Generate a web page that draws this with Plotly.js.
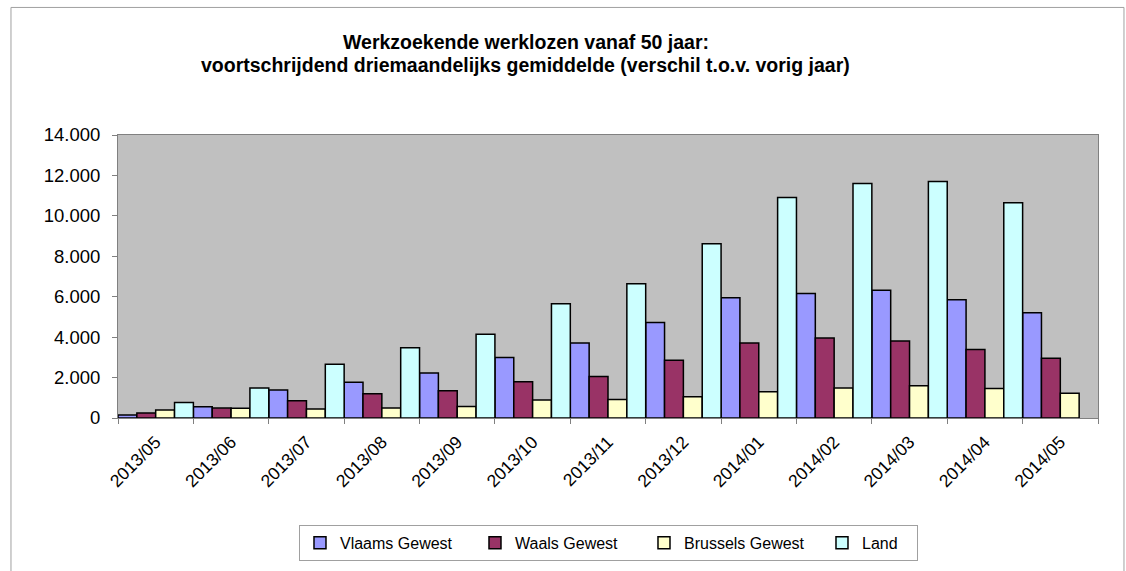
<!DOCTYPE html>
<html>
<head>
<meta charset="utf-8">
<script src="https://cdn.plot.ly/plotly-3.0.1.min.js"></script>
<style>
html,body{margin:0;padding:0;background:#fff;}
#chart{width:1126px;height:571px;}
</style>
</head>
<body>
<div id="chart"></div>
<script>
const categories = ["2013/05","2013/06","2013/07","2013/08","2013/09","2013/10","2013/11","2013/12","2014/01","2014/02","2014/03","2014/04","2014/05"];
const vlaams   = [150, 560, 1380, 1770, 2220, 2990, 3710, 4720, 5950, 6160, 6320, 5850, 5210];
const waals    = [250, 490,  850, 1200, 1350, 1790, 2050, 2860, 3710, 3960, 3810, 3390, 2960];
const brussels = [400, 480,  440,  490,  575,  890,  920, 1050, 1300, 1490, 1590, 1460, 1220];
const land     = [770, 1490, 2660, 3470, 4140, 5650, 6640, 8620, 10910, 11600, 11700, 10650, null];
const seriesNames = ["Vlaams Gewest","Waals Gewest","Brussels Gewest","Land"];
const seriesColors = ["#9999FF","#993366","#FFFFCC","#CCFFFF"];
const seriesValues = [vlaams, waals, brussels, land];
const legendWidths = [130, 124, 133, 50];
const titleLine1 = "Werkzoekende werklozen vanaf 50 jaar:";
const titleLine2 = "voortschrijdend driemaandelijks gemiddelde (verschil t.o.v. vorig jaar)";

const traces = seriesValues.map((vals, i) => ({
  type: "bar",
  name: seriesNames[i],
  x: categories,
  y: vals,
  legendwidth: legendWidths[i],
  marker: {color: seriesColors[i], line: {color: "#000000", width: 1.5}}
}));

const FONT = "Liberation Sans, Arial, sans-serif";

const layout = {
  width: 1126, height: 571,
  paper_bgcolor: "#ffffff",
  plot_bgcolor: "#C0C0C0",
  font: {family: FONT, color: "#000"},
  separators: ",.",
  margin: {l: 118, r: 28, t: 135, b: 152, pad: 0},
  bargap: 0, bargroupgap: 0, barmode: "group",
  annotations: [
    {text: "<b>" + titleLine1 + "</b>", xref: "paper", yref: "paper",
     x: 0.4163, y: 1.3275, xanchor: "center", yanchor: "middle", showarrow: false,
     font: {size: 19.5, family: FONT, color: "#000"}},
    {text: "<b>" + titleLine2 + "</b>", xref: "paper", yref: "paper",
     x: 0.4163, y: 1.2465, xanchor: "center", yanchor: "middle", showarrow: false,
     font: {size: 19.5, family: FONT, color: "#000"}}
  ],
  xaxis: {
    type: "category",
    tickangle: -45,
    tickson: "boundaries",
    ticks: "outside", ticklen: 5, tickcolor: "#808080",
    ticklabelstandoff: 6,
    showline: true, linecolor: "#808080", linewidth: 1, mirror: true,
    showgrid: false, zeroline: false,
    tickfont: {size: 17.5},
    fixedrange: true
  },
  yaxis: {
    range: [0, 14000], dtick: 2000, tick0: 0,
    tickformat: ",d",
    ticks: "outside", ticklen: 5, tickcolor: "#808080",
    ticklabelstandoff: 8,
    showline: true, linecolor: "#808080", linewidth: 1, mirror: true,
    showgrid: false, zeroline: false,
    tickfont: {size: 18.5},
    fixedrange: true
  },
  showlegend: true,
  legend: {
    orientation: "h",
    x: 0.5005, xanchor: "center",
    y: -0.373, yanchor: "top",
    bordercolor: "#A0A0A0", borderwidth: 1,
    bgcolor: "#ffffff",
    font: {size: 16},
    traceorder: "normal"
  },
  shapes: [{
    type: "path", xref: "paper", yref: "paper",
    path: "M -0.1092 -0.6 L -0.1092 1.4507 L 1.0265 1.4507 L 1.0265 -0.6",
    line: {color: "#A0A0A0", width: 1}
  }]
};

Plotly.newPlot("chart", traces, layout, {displayModeBar: false, staticPlot: true});
</script>
</body>
</html>
